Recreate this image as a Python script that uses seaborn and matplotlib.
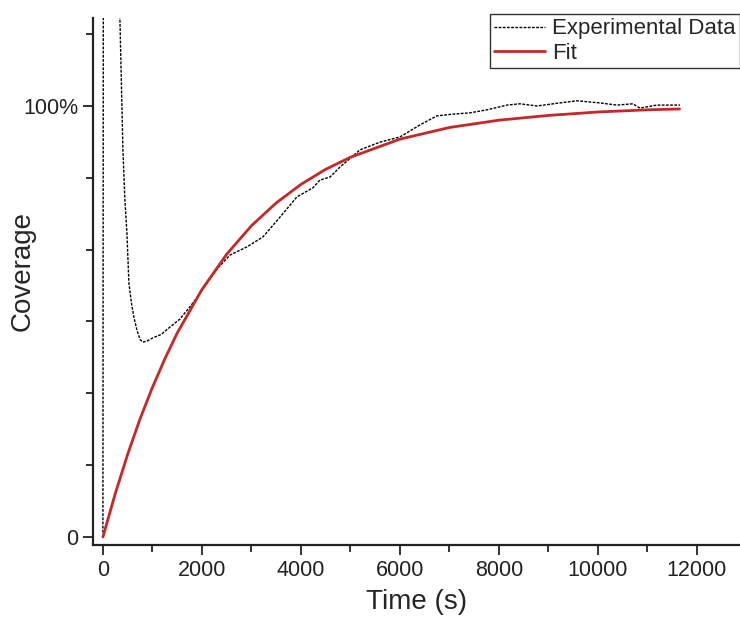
import numpy as np
import pandas as pd
import seaborn as sns
import matplotlib.pyplot as plt
from matplotlib.ticker import FixedLocator

# experimental coverage trace (fraction of full coverage)
exp_time = [0, 10, 270, 343, 404, 444, 485, 525, 580, 626, 687, 750, 808, 900, 1010,
            1180, 1354, 1550, 1758, 1930, 2101, 2330, 2566, 2909, 3232, 3576, 3919,
            4242, 4384, 4586, 4788, 5192, 5596, 6000, 6404, 6747, 7071, 7414, 7758,
            8162, 8424, 8768, 9232, 9576, 10040, 10384, 10707, 10848, 11192, 11657]
exp_cov = [0.01, 1.6, 1.6, 1.204, 0.898, 0.782, 0.705, 0.589, 0.540, 0.510, 0.480,
           0.458, 0.452, 0.455, 0.462, 0.470, 0.487, 0.505, 0.534, 0.560, 0.589,
           0.625, 0.654, 0.673, 0.696, 0.742, 0.789, 0.810, 0.828, 0.835, 0.858,
           0.898, 0.916, 0.928, 0.956, 0.977, 0.981, 0.984, 0.991, 1.002, 1.005,
           1.000, 1.007, 1.012, 1.007, 1.002, 1.005, 0.995, 1.002, 1.002]

# fitted curve
fit_time = [0, 250, 500, 750, 1000, 1250, 1500, 2000, 2500, 3000, 3500, 4000, 4500,
            5000, 6000, 7000, 8000, 9000, 10000, 11000, 11650]
fit_cov = [0.0, 0.101, 0.192, 0.274, 0.347, 0.413, 0.473, 0.574, 0.656, 0.722, 0.775,
           0.818, 0.853, 0.881, 0.923, 0.950, 0.967, 0.978, 0.986, 0.991, 0.993]

x_ticks = [0, 2000, 4000, 6000, 8000, 10000, 12000]
y_ticks = [0, 1]
y_labels = ['0', '100%']

sns.set_style('ticks')
plt.rcParams['font.family'] = ['Liberation Sans', 'DejaVu Sans']

exp_df = pd.DataFrame({'t': exp_time, 'c': exp_cov})
fit_df = pd.DataFrame({'t': fit_time, 'c': fit_cov})

fig = plt.figure(figsize=(7.4, 6.28), dpi=100)
ax = fig.add_axes([0.1257, 0.1322, 0.8743, 0.8391])

sns.lineplot(data=exp_df, x='t', y='c', ax=ax, color='black', lw=1.0,
             linestyle=(0, (2, 1)), label='Experimental Data', sort=False)
sns.lineplot(data=fit_df, x='t', y='c', ax=ax, color='#C62828', lw=2.0, label='Fit')

ax.set_xlim(-200, 12870)
ax.set_ylim(-0.0186, 1.204)
ax.set_xticks(x_ticks)
ax.xaxis.set_minor_locator(FixedLocator([1000, 3000, 5000, 7000, 9000, 11000]))
ax.set_yticks(y_ticks)
ax.set_yticklabels(y_labels)
ax.yaxis.set_minor_locator(FixedLocator([k / 6 for k in [1, 2, 3, 4, 5, 7]]))

for s in ['top', 'right']:
    ax.spines[s].set_visible(False)
for s in ['left', 'bottom']:
    ax.spines[s].set_linewidth(1.6)
    ax.spines[s].set_color('#222222')

ax.tick_params(which='major', length=7, width=1.3, labelsize=15.5, colors='#222222')
ax.tick_params(which='minor', length=5, width=1.3, colors='#222222')

ax.set_xlabel('Time (s)', fontsize=20, labelpad=6)
ax.set_ylabel('Coverage', fontsize=20)
ax.yaxis.set_label_coords(-0.088, 0.52)

leg = ax.legend(loc='upper right', bbox_to_anchor=(1.0, 1 - 14 / 628),
                bbox_transform=fig.transFigure, fontsize=16, frameon=True,
                fancybox=False, handlelength=2.3, handletextpad=0.3,
                borderpad=0.2, labelspacing=0.15, borderaxespad=0)
leg.get_frame().set_edgecolor('black')
leg.get_frame().set_linewidth(1.0)

fig.savefig('out.png', dpi=100)
